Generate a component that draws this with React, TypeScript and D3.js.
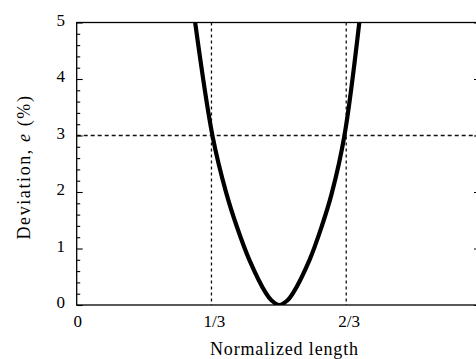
import { useEffect, useRef } from 'react';
import * as d3 from 'd3';

// deviation curve
const lengthPts = [0.293, 0.336, 0.37, 0.396, 0.427, 0.468, 0.482, 0.501, 0.521, 0.535, 0.576, 0.606, 0.631, 0.662, 0.699];
const deviationPts = [5.0, 2.99, 1.98, 1.39, 0.8, 0.21, 0.08, 0, 0.08, 0.21, 0.8, 1.39, 1.98, 2.99, 5.0];

const xTickVals = [0, 1 / 3, 2 / 3];
const xTickLabels = ['0', '1/3', '2/3'];
const yTickVals = [0, 1, 2, 3, 4, 5];
const guideX = [1 / 3, 2 / 3];
const guideY = [3];

export default function App() {
  const svgRef = useRef<SVGSVGElement | null>(null);

  useEffect(() => {
    if (!svgRef.current) return;
    const svg = d3.select(svgRef.current);
    svg.selectAll('*').remove();

    const font = '"Liberation Serif", "Times New Roman", serif';
    const left = 76.7, right = 481, top = 22.5, bottom = 305;

    const x = d3.scaleLinear().domain([0, 1]).range([left, right]);
    const y = d3.scaleLinear().domain([0, 5]).range([bottom, top]);

    svg.append('rect').attr('width', 476).attr('height', 359).attr('fill', '#fff');

    // dashed guides
    svg.selectAll('line.gx')
      .data(guideX)
      .join('line')
      .attr('x1', d => x(d)).attr('x2', d => x(d))
      .attr('y1', top).attr('y2', bottom)
      .attr('stroke', '#111').attr('stroke-width', 1.3)
      .attr('stroke-dasharray', '3,3');

    svg.selectAll('line.gy')
      .data(guideY)
      .join('line')
      .attr('x1', left).attr('x2', right)
      .attr('y1', d => y(d)).attr('y2', d => y(d))
      .attr('stroke', '#111').attr('stroke-width', 1.3)
      .attr('stroke-dasharray', '4,3');

    // curve
    svg.append('clipPath').attr('id', 'plotclip')
      .append('rect').attr('x', left).attr('y', top).attr('width', right - left).attr('height', bottom - top);

    const line = d3.line<number>()
      .x((_, i) => x(lengthPts[i]))
      .y(d => y(d))
      .curve(d3.curveCatmullRom.alpha(0.5));

    svg.append('path')
      .datum(deviationPts)
      .attr('d', line)
      .attr('fill', 'none')
      .attr('stroke', '#000')
      .attr('stroke-width', 4.2)
      .attr('clip-path', 'url(#plotclip)');

    // frame
    svg.append('rect')
      .attr('x', left).attr('y', top)
      .attr('width', right - left).attr('height', bottom - top)
      .attr('fill', 'none').attr('stroke', '#000').attr('stroke-width', 1.3);

    // y ticks, inward, both sides
    const minor = d3.range(0, 5.001, 0.2).filter(v => Math.abs(v - Math.round(v)) > 0.01);
    const yAxisL = d3.axisRight(y).tickValues(yTickVals).tickSize(6).tickFormat(() => '');
    const yMinorL = d3.axisRight(y).tickValues(minor).tickSize(3.5).tickFormat(() => '');
    const yAxisR = d3.axisLeft(y).tickValues(yTickVals).tickSize(7).tickFormat(() => '');
    for (const [ax, tx] of [[yAxisL, left], [yMinorL, left], [yAxisR, right]] as const) {
      const g = svg.append('g').attr('transform', `translate(${tx},0)`).call(ax as any);
      g.select('.domain').remove();
      g.selectAll('line').attr('stroke', '#000').attr('stroke-width', 1.1);
    }

    // y tick labels
    svg.selectAll('text.yl')
      .data(yTickVals)
      .join('text')
      .attr('x', 65).attr('y', d => y(d) + 3)
      .attr('text-anchor', 'end')
      .attr('font-family', font).attr('font-size', 17)
      .text(d => String(d));

    // x tick labels
    svg.selectAll('text.xl')
      .data(xTickVals)
      .join('text')
      .attr('x', (d, i) => x(d) + (i === 0 ? 1 : 3))
      .attr('y', 327)
      .attr('text-anchor', 'middle')
      .attr('font-family', font).attr('font-size', 17)
      .text((_, i) => xTickLabels[i]);

    // axis titles
    svg.append('text')
      .attr('x', 284).attr('y', 355)
      .attr('text-anchor', 'middle')
      .attr('font-family', font).attr('font-size', 18)
      .attr('textLength', 148).attr('lengthAdjust', 'spacing')
      .text('Normalized length');

    const yt = svg.append('text')
      .attr('transform', 'translate(30,167) rotate(-90)')
      .attr('text-anchor', 'middle')
      .attr('font-family', font).attr('font-size', 18)
      .attr('letter-spacing', 1.6);
    yt.append('tspan').text('Deviation, ');
    yt.append('tspan').attr('font-style', 'italic').text('e');
    yt.append('tspan').text(' (%)');
  }, []);

  return (
    <div style={{ position: 'absolute', left: 0, top: 0 }}>
      <svg ref={svgRef} width={476} height={359} style={{ display: 'block' }} />
    </div>
  );
}
